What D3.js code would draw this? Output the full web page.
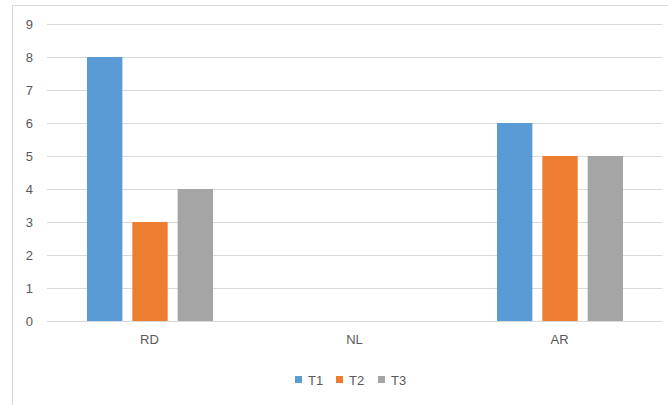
<!DOCTYPE html>
<html>
<head>
<meta charset="utf-8">
<script src="https://cdn.jsdelivr.net/npm/d3@7"></script>
<style>
  html, body { margin: 0; padding: 0; background: #fff; }
  svg { display: block; }
  text { font-family: "Liberation Sans", Arial, sans-serif; font-size: 13px; fill: #595959; }
</style>
</head>
<body>
<svg id="chart" width="668" height="405"></svg>
<script>
const categories = ["RD", "NL", "AR"];
const seriesNames = ["T1", "T2", "T3"];
const t1 = [8, 0, 6];
const t2 = [3, 0, 5];
const t3 = [4, 0, 5];
const colors = ["#5b9bd5", "#ed7d31", "#a5a5a5"];
const yTicks = [0, 1, 2, 3, 4, 5, 6, 7, 8, 9];

const seriesValues = [t1, t2, t3];
const svg = d3.select("#chart");

// chart area outline
svg.append("path")
  .attr("d", "M12.5,405 L12.5,5.5 L668,5.5")
  .attr("fill", "none")
  .attr("stroke", "#d9d9d9")
  .attr("stroke-width", 1);

const plot = { left: 47, right: 662, top: 24, bottom: 321 };

const x = d3.scaleBand().domain(categories).range([plot.left, plot.right]).padding(0);
const xSub = d3.scaleBand().domain(seriesNames)
  .range([40, 166]).paddingInner(0.22).paddingOuter(0);
const y = d3.scaleLinear().domain([0, 9]).range([plot.bottom, plot.top]);

// horizontal gridlines
svg.append("g")
  .selectAll("line")
  .data(yTicks)
  .join("line")
  .attr("x1", plot.left)
  .attr("x2", plot.right)
  .attr("y1", d => Math.round(y(d)) + 0.5)
  .attr("y2", d => Math.round(y(d)) + 0.5)
  .attr("stroke", "#d9d9d9")
  .attr("stroke-width", 1);

// y axis labels
const yAxis = d3.axisLeft(y).tickValues(yTicks).tickSize(0).tickPadding(0);
const yg = svg.append("g").attr("transform", `translate(${plot.left - 14},0)`).call(yAxis);
yg.select(".domain").remove();
yg.selectAll("text").attr("font-size", null).attr("font-family", null).attr("fill", null);

// bars
const groups = svg.append("g")
  .selectAll("g")
  .data(categories)
  .join("g")
  .attr("transform", c => `translate(${x(c)},0)`);

groups.selectAll("rect")
  .data((c, i) => seriesNames.map((s, j) => ({ s, v: seriesValues[j][i], color: colors[j] })))
  .join("rect")
  .attr("x", d => xSub(d.s))
  .attr("width", xSub.bandwidth())
  .attr("y", d => y(d.v))
  .attr("height", d => y(0) - y(d.v))
  .attr("fill", d => d.color);

// x axis labels
const xAxis = d3.axisBottom(x).tickSize(0).tickPadding(0);
const xg = svg.append("g").attr("transform", `translate(0,${plot.bottom + 14})`).call(xAxis);
xg.select(".domain").remove();
xg.selectAll("text").attr("font-size", null).attr("font-family", null).attr("fill", null);

// legend
const legendX = [295, 336, 378];
const legend = svg.append("g")
  .selectAll("g")
  .data(seriesNames)
  .join("g")
  .attr("transform", (d, i) => `translate(${legendX[i]},375)`);
legend.append("rect").attr("width", 7).attr("height", 7).attr("y", 1)
  .attr("fill", (d, i) => colors[i]);
legend.append("text").attr("x", 13).attr("y", 9.5).text(d => d);
</script>
</body>
</html>
